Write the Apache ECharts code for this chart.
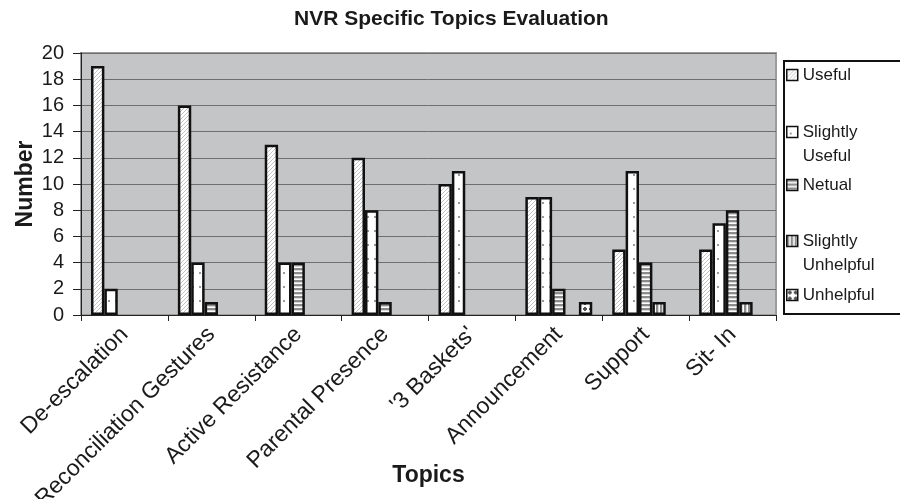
<!DOCTYPE html>
<html>
<head>
<meta charset="utf-8">
<script src="https://cdn.jsdelivr.net/npm/echarts@6/dist/echarts.min.js"></script>
<style>
  html, body { margin: 0; padding: 0; background: #ffffff; }
  #chart { width: 900px; height: 499px; }
</style>
</head>
<body>
<div id="chart"></div>
<script>
// Topics on the category axis
const topics = ['De-escalation', 'Reconciliation Gestures', 'Active Resistance', 'Parental Presence',
                "'3 Baskets'", 'Announcement', 'Support', 'Sit- In'];

// Number of responses for each rating
const useful            = [19, 16, 13, 12, 10, 9, 5, 5];
const slightlyUseful    = [2, 4, 4, 8, 11, 9, 11, 7];
const netual            = [0, 1, 4, 1, 0, 2, 4, 8];
const slightlyUnhelpful = [0, 0, 0, 0, 0, 0, 1, 1];
const unhelpful         = [0, 0, 0, 0, 0, 1, 0, 0];

const ratingNames = ['Useful', 'Slightly Useful', 'Netual', 'Slightly Unhelpful', 'Unhelpful'];
const ratingValues = [useful, slightlyUseful, netual, slightlyUnhelpful, unhelpful];

// Y axis ticks
const yMin = 0, yMax = 20, yStep = 2;

const FONT = 'Liberation Sans, Arial, sans-serif';

// ---- fill patterns (black & white print style) ----
function tile(w, h, draw) {
  const c = document.createElement('canvas');
  c.width = w; c.height = h;
  const g = c.getContext('2d');
  g.fillStyle = '#ffffff';
  g.fillRect(0, 0, w, h);
  draw(g, w, h);
  return { image: c, repeat: 'repeat' };
}

const patterns = [
  // diagonal hatching
  tile(4, 4, (g) => {
    g.strokeStyle = '#c2c2c2'; g.lineWidth = 1;
    g.beginPath();
    g.moveTo(-1, 5); g.lineTo(5, -1);
    g.moveTo(-1, 1); g.lineTo(1, -1);
    g.moveTo(3, 5); g.lineTo(5, 3);
    g.stroke();
  }),
  // sparse dots
  tile(7, 14, (g) => {
    g.fillStyle = '#9a9a9a';
    g.fillRect(3, 6, 2, 2);
  }),
  // horizontal stripes
  tile(1, 4, (g) => {
    g.fillStyle = '#8c8c8c'; g.fillRect(0, 0, 1, 2);
    g.fillStyle = '#d8d8d8'; g.fillRect(0, 2, 1, 1);
  }),
  // vertical stripes
  tile(4, 1, (g) => {
    g.fillStyle = '#8c8c8c'; g.fillRect(0, 0, 2, 1);
    g.fillStyle = '#d8d8d8'; g.fillRect(2, 0, 1, 1);
  }),
  // small crosses
  tile(6, 6, (g) => {
    g.fillStyle = '#555555';
    g.fillRect(2, 1, 2, 4);
    g.fillRect(1, 2, 4, 2);
  })
];

const series = ratingNames.map((name, i) => ({
  name: name,
  type: 'bar',
  barGap: '0%',
  barCategoryGap: '23%',
  data: ratingValues[i].map(v => (v === 0 ? null : v)),
  itemStyle: { color: patterns[i], borderColor: '#111111', borderWidth: 2.5 }
}));

// one legend block per rating, so every entry can sit at its own height;
// two-word names wrap, with the first line kept level with the swatch
const LH = 24;
const legendTops = [63, 96, 173, 205, 283];
const legends = ratingNames.map((name, i) => ({
  data: [name],
  orient: 'vertical',
  left: 786,
  top: legendTops[i],
  padding: 0,
  icon: 'rect',
  itemWidth: 11,
  itemHeight: 11,
  selectedMode: false,
  itemStyle: { borderColor: '#111111', borderWidth: 1.5 },
  formatter: (n) => (n.indexOf(' ') > 0 ? '\n' + n.replace(' ', '\n') : n),
  textStyle: { fontFamily: FONT, fontSize: 17, color: '#1a1a1a', lineHeight: LH }
}));

const chart = echarts.init(document.getElementById('chart'), null, { renderer: 'canvas' });
chart.setOption({
  animation: false,
  backgroundColor: '#ffffff',
  textStyle: { fontFamily: FONT },
  title: {
    text: 'NVR Specific Topics Evaluation',
    left: 289,
    top: 4,
    textStyle: { fontFamily: FONT, fontSize: 21, fontWeight: 'bold', color: '#1a1a1a' }
  },
  graphic: [{
    type: 'rect',
    z: 0,
    shape: { x: 784, y: 61, width: 140, height: 253 },
    style: { fill: '#ffffff', stroke: '#111111', lineWidth: 2 }
  }],
  legend: legends,
  grid: {
    left: 81, right: 124, top: 53, bottom: 184,
    outerBoundsMode: 'none',
    containLabel: false,
    show: true,
    backgroundColor: '#c4c5c7',
    borderColor: '#9c9c9c',
    borderWidth: 2
  },
  xAxis: {
    type: 'category',
    data: topics,
    name: 'Topics',
    nameLocation: 'middle',
    nameGap: 149,
    nameMoveOverlap: false,
    nameTextStyle: { fontSize: 23, fontWeight: 'bold', color: '#1a1a1a' },
    axisLine: { lineStyle: { color: '#222222', width: 1 } },
    axisTick: { show: true, length: 6, lineStyle: { color: '#222222' } },
    axisLabel: { interval: 0, rotate: 45, fontSize: 23, color: '#1a1a1a', margin: 16 }
  },
  yAxis: {
    type: 'value',
    min: yMin, max: yMax, interval: yStep,
    name: 'Number',
    nameLocation: 'middle',
    nameRotate: 90,
    nameGap: 44,
    nameMoveOverlap: false,
    nameTextStyle: { fontSize: 23, fontWeight: 'bold', color: '#1a1a1a' },
    axisLine: { show: true, lineStyle: { color: '#222222', width: 1 } },
    axisTick: { show: true, length: 8, lineStyle: { color: '#222222' } },
    axisLabel: { fontSize: 20, color: '#1a1a1a', margin: 17 },
    splitLine: { show: true, lineStyle: { color: '#6e6e6e', width: 1 } }
  },
  series: series
});
</script>
</body>
</html>
